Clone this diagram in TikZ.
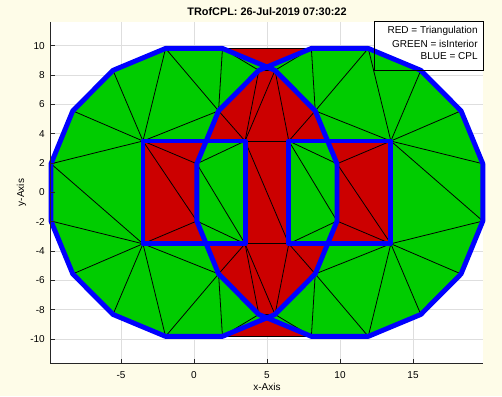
\documentclass[tikz,border=0pt]{standalone}
\usepackage{fontspec}
\setmainfont{Liberation Sans}
\usetikzlibrary{calc}
\definecolor{figbg}{RGB}{254,252,232}
\definecolor{trired}{RGB}{204,0,0}
\definecolor{intgreen}{RGB}{0,204,0}
\definecolor{cplblue}{RGB}{0,0,255}
\definecolor{gridgray}{RGB}{222,222,222}
\begin{document}
\begin{tikzpicture}[x=0.02cm, y=0.02cm,
    tri/.style={black, line width=0.45pt},
    cpl/.style={cplblue, line width=2.8pt, line join=round},
    gridline/.style={gridgray, line width=0.4pt},
    axline/.style={black!85, line width=0.5pt},
    lbl/.style={font=\fontsize{5.7}{6.8}\selectfont, inner sep=0pt}
]
    \fill[figbg] (0,0) rectangle (502,396);
    \begin{scope}[shift={(194,203.6)}, xscale=14.6, yscale=14.68]
    % Axes et grille
    \fill[white] (-9.81,-11.62) rectangle (19.81,11.62);
    \foreach \gx in {-5,0,...,15}
        \draw[gridline] (\gx,-11.62) -- (\gx,11.62);
    \foreach \gy in {-10,-8,...,10}
        \draw[gridline] (-9.81,\gy) -- (19.81,\gy);
    \fill[white] (12.33,8.34) rectangle (19.81,11.63);

    % Sommets
    \foreach \k in {0,...,15} {
        \coordinate (L\k) at ({11.25+22.5*\k}:10);
        \coordinate (R\k) at ($(10,0)+({11.25+22.5*\k}:10)$);
    }
    \coordinate (A1) at (-3.5,3.5);
    \coordinate (A2) at (3.5,3.5);
    \coordinate (A3) at (3.5,-3.5);
    \coordinate (A4) at (-3.5,-3.5);
    \coordinate (B1) at (6.5,3.5);
    \coordinate (B2) at (13.5,3.5);
    \coordinate (B3) at (13.5,-3.5);
    \coordinate (B4) at (6.5,-3.5);

    % Triangulation
    \fill[trired] (L3) \foreach \k in {4,...,12} { -- (L\k) }
        \foreach \k in {11,...,15} { -- (R\k) }
        \foreach \k in {0,...,4} { -- (R\k) } -- cycle;
    % isInterior
    \fill[intgreen, even odd rule]
        (L0) \foreach \k in {1,...,15} { -- (L\k) } -- cycle
        (R0) \foreach \k in {1,...,15} { -- (R\k) } -- cycle
        (A1) rectangle (A3) (B1) rectangle (B3);

    % Aretes
    \foreach \a/\b in {L3/R4, L3/R5, R5/L2, R4/L2, L3/R6, L4/R6, R3/L1, R4/L1,
        A1/L4, A1/L5, A1/L6, A1/L7, A1/R6, A1/R7, A1/R8,
        A4/L7, A4/L8, A4/L9, A4/L10, A4/L11, A4/R9, A4/R8,
        L11/R9, L12/R9, L12/R10, L12/R11,
        B2/R3, B2/R2, B2/R1, B2/R0, B2/R15, B2/L1, B2/L0,
        B3/R15, B3/R14, B3/R13, B3/R12, B3/L14, B3/L0, B3/L15,
        R12/L14, R11/L14, R11/L13,
        A2/B1, A2/R6, A2/R5, A2/L2, B1/L2, B1/L1,
        A3/B4, A3/R9, A3/R10, A3/L13, B4/L13, B4/L14, R10/L13,
        A2/B4, R7/A2, R7/A3, R8/A3, L0/B1, B1/L15, L15/B4}
        \draw[tri] (\a) -- (\b);

    % CPL
    \draw[cpl] (L0) \foreach \k in {1,...,15} { -- (L\k) } -- cycle;
    \draw[cpl] (R0) \foreach \k in {1,...,15} { -- (R\k) } -- cycle;
    \draw[cpl] (A1) rectangle (A3);
    \draw[cpl] (B1) rectangle (B3);

    % Axes
    \draw[axline] (-9.81,11.62) -- (-9.81,-11.62) -- (19.81,-11.62);
    \foreach \gx in {-5,0,...,15} {
        \draw[axline] (\gx,-11.62) -- ++(0,0.26);
        \node[lbl] (xt\gx) at (\gx,-12.45) {\gx};
    }
    \foreach \gy in {-10,-8,...,10} {
        \draw[axline] (-9.81,\gy) -- ++(0.26,0);
        \node[lbl, anchor=east] (yt\gy) at (-10.2,\gy) {\gy};
    }
    \node[lbl] (xlabel) at (5,-13.26) {x-Axis};
    \node[lbl, rotate=90] (ylabel) at (-11.82,0) {y-Axis};
    \node[lbl, font=\fontsize{6.2}{7.4}\selectfont\bfseries] (title) at (5,12.29) {TRofCPL: 26-Jul-2019 07:30:22};

    % Legende
    \draw[black, line width=0.5pt] (12.33,8.34) rectangle (19.81,11.63);
    \node[lbl, anchor=east] (legred) at (19.45,10.99) {RED = Triangulation};
    \node[lbl, anchor=east] (leggreen) at (19.45,10.13) {GREEN = isInterior};
    \node[lbl, anchor=east] (legblue) at (19.45,9.27) {BLUE = CPL};
    \end{scope}
\end{tikzpicture}
\end{document}
